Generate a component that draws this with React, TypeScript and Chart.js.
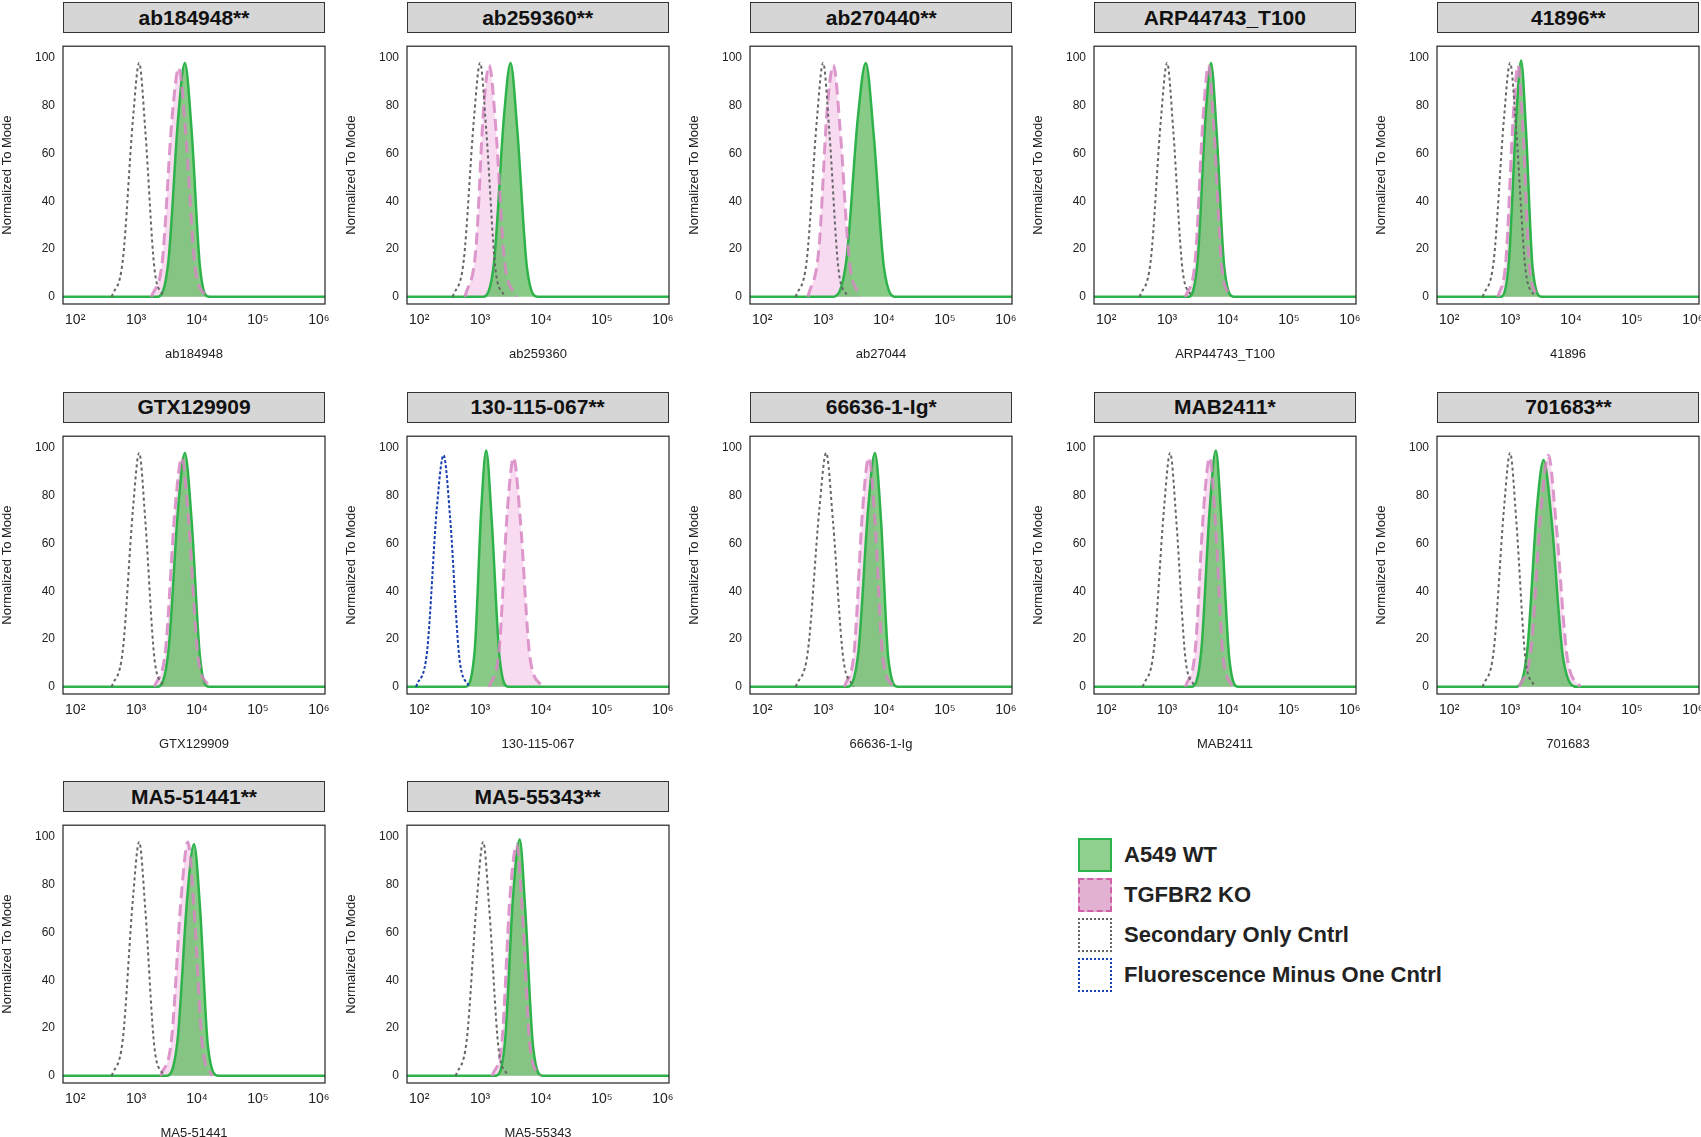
import React, { useEffect, useRef } from "react";
import { Chart, registerables } from "chart.js";
Chart.register(...registerables);

type Pt = [number, number];
const titles = ["ab184948**","ab259360**","ab270440**","ARP44743_T100","41896**","GTX129909","130-115-067**","66636-1-Ig*","MAB2411*","701683**","MA5-51441**","MA5-55343**"];
const xTitles = ["ab184948","ab259360","ab27044","ARP44743_T100","41896","GTX129909","130-115-067","66636-1-Ig","MAB2411","701683","MA5-51441","MA5-55343"];
const tickExps = [2, 3, 4, 5, 6];
const tickLabels = ["10²", "10³", "10⁴", "10⁵", "10⁶"];
const yTicks = [0, 20, 40, 60, 80, 100];

const grayA: Pt[] = [[2.6,0],[2.78,15],[2.95,75],[3.05,98],[3.15,70],[3.3,12],[3.45,0]];
const grayB: Pt[] = [[2.55,0],[2.73,15],[2.9,75],[3.0,98],[3.1,70],[3.25,12],[3.4,0]];
const grayC: Pt[] = [[2.55,0],[2.75,15],[2.94,75],[3.05,98],[3.16,70],[3.33,12],[3.5,0]];

const grayS: (Pt[] | null)[] = [grayA, grayB, grayB, grayB, grayB, grayA, null, grayC, grayA, grayB, grayA, grayA];
const blueS: (Pt[] | null)[] = [null,null,null,null,null,null,
  [[1.95,0],[2.13,15],[2.29,75],[2.4,97],[2.51,70],[2.66,12],[2.82,0]],
  null,null,null,null,null];
const pinkS: Pt[][] = [
  [[3.25,0],[3.43,15],[3.59,75],[3.7,96],[3.81,70],[3.97,12],[4.15,0]],
  [[2.75,0],[2.93,20],[3.06,80],[3.15,97],[3.26,70],[3.4,15],[3.6,0]],
  [[2.75,0],[2.93,20],[3.07,80],[3.17,97],[3.28,70],[3.43,15],[3.6,0]],
  [[3.3,0],[3.46,15],[3.59,75],[3.68,97],[3.77,70],[3.9,12],[4.05,0]],
  [[2.8,0],[2.93,15],[3.05,75],[3.13,97],[3.21,70],[3.32,12],[3.47,0]],
  [[3.3,0],[3.48,15],[3.64,75],[3.75,96],[3.86,70],[4.02,12],[4.2,0]],
  [[3.15,0],[3.31,15],[3.45,75],[3.55,96],[3.66,70],[3.82,12],[4.02,0]],
  [[3.35,0],[3.51,15],[3.65,75],[3.75,96],[3.85,70],[3.98,12],[4.15,0]],
  [[3.3,0],[3.46,15],[3.6,75],[3.7,96],[3.79,70],[3.92,12],[4.08,0]],
  [[3.15,0],[3.34,15],[3.51,75],[3.63,97],[3.75,70],[3.94,12],[4.15,0]],
  [[3.4,0],[3.58,15],[3.74,75],[3.85,98],[3.95,70],[4.09,12],[4.25,0]],
  [[3.2,0],[3.36,15],[3.49,75],[3.6,97],[3.69,70],[3.82,12],[3.98,0]],
];
const greenS: Pt[][] = [
  [[3.35,0],[3.53,15],[3.69,75],[3.8,98],[3.91,70],[4.05,12],[4.2,0]],
  [[3.05,0],[3.23,15],[3.39,75],[3.5,98],[3.61,70],[3.77,12],[3.95,0]],
  [[3.15,0],[3.38,15],[3.57,75],[3.7,98],[3.83,68],[4.0,12],[4.2,0]],
  [[3.35,0],[3.5,15],[3.63,75],[3.72,98],[3.81,70],[3.94,12],[4.1,0]],
  [[2.85,0],[2.98,15],[3.1,75],[3.18,99],[3.26,70],[3.37,12],[3.52,0]],
  [[3.35,0],[3.53,15],[3.69,75],[3.8,98],[3.91,70],[4.05,12],[4.2,0]],
  [[2.75,0],[2.91,15],[3.02,75],[3.1,99],[3.19,70],[3.32,12],[3.47,0]],
  [[3.4,0],[3.58,15],[3.74,75],[3.85,98],[3.95,70],[4.07,12],[4.23,0]],
  [[3.4,0],[3.56,15],[3.7,75],[3.8,99],[3.89,70],[4.02,12],[4.17,0]],
  [[3.1,0],[3.28,15],[3.44,75],[3.55,95],[3.68,70],[3.87,12],[4.1,0]],
  [[3.5,0],[3.68,15],[3.84,75],[3.95,97],[4.05,70],[4.18,12],[4.35,0]],
  [[3.25,0],[3.41,15],[3.54,75],[3.65,99],[3.74,70],[3.87,12],[4.03,0]],
];
const X_MIN_EXP = 1.8, X_MAX_EXP = 6.1;

const toXY = (pts: Pt[]) => pts.map(([l, y]) => ({ x: Math.pow(10, l), y }));

const boxPlugin = {
  id: "box",
  afterDraw(chart: any) {
    const { ctx, chartArea: a } = chart;
    ctx.save(); ctx.strokeStyle = "#222"; ctx.lineWidth = 1.2;
    ctx.strokeRect(a.left, a.top, a.right - a.left, a.bottom - a.top);
    ctx.restore();
  },
};

const FONT = "'Liberation Sans', Arial, sans-serif";

function Panel({ i }: { i: number }) {
  const ref = useRef<HTMLCanvasElement>(null);
  useEffect(() => {
    const ds: any[] = [];
    const base = { showLine: true, pointRadius: 0, cubicInterpolationMode: "monotone" };
    // pink fill (bottom)
    ds.push({ ...base, data: toXY(pinkS[i]), borderWidth: 0, borderColor: "rgba(0,0,0,0)", backgroundColor: "rgba(242,190,228,0.55)", fill: "origin", order: 5 });
    // green fill + line
    ds.push({ ...base, data: toXY([[X_MIN_EXP, 0], ...greenS[i], [X_MAX_EXP, 0]]), borderColor: "#2db34a", borderWidth: 2.5, backgroundColor: "rgba(105,190,105,0.8)", fill: "origin", order: 4 });
    // pink dashed line on top
    ds.push({ ...base, data: toXY(pinkS[i]), borderColor: "rgba(215,135,195,0.85)", borderWidth: 3, borderDash: [12, 6], fill: false, order: 3 });
    if (grayS[i]) ds.push({ ...base, data: toXY(grayS[i]!), borderColor: "#666", borderWidth: 2, borderDash: [3, 3], fill: false, order: 1 });
    if (blueS[i]) ds.push({ ...base, data: toXY(blueS[i]!), borderColor: "#1a3fb0", borderWidth: 2, borderDash: [3, 2], fill: false, order: 1 });
    const chart = new Chart(ref.current!, {
      type: "scatter",
      data: { datasets: ds },
      options: {
        animation: false, responsive: false,
        layout: { padding: { top: 5, right: 15, left: 0, bottom: 0 } },
        plugins: { legend: { display: false }, tooltip: { enabled: false } },
        scales: {
          x: {
            type: "logarithmic", min: Math.pow(10, X_MIN_EXP), max: Math.pow(10, X_MAX_EXP),
            grid: { display: false, drawTicks: true, tickLength: 5 } as any,
            border: { display: false },
            afterBuildTicks: (ax: any) => { ax.ticks = tickExps.map((e) => ({ value: Math.pow(10, e) })); },
            afterFit: (ax: any) => { ax.height = 62; },
            ticks: { autoSkip: false, maxRotation: 0, color: "#222", font: { family: FONT, size: 14 },
              callback: (v: any) => { const k = tickExps.findIndex((e) => Math.abs(Math.pow(10, e) - v) < 1e-6 * v); return k >= 0 ? tickLabels[k] : ""; } },
            title: { display: true, text: xTitles[i], color: "#222", font: { family: FONT, size: 13 }, padding: { top: 6 } },
          },
          y: {
            min: -3, max: 105,
            grid: { display: false, tickLength: 5 } as any,
            border: { display: false },
            afterBuildTicks: (ax: any) => { ax.ticks = yTicks.map((v) => ({ value: v })); },
            afterFit: (ax: any) => { ax.width = 63; },
            ticks: { color: "#222", font: { family: FONT, size: 12 } },
            title: { display: true, text: "Normalized To Mode", color: "#222", font: { family: FONT, size: 13 }, padding: 0 },
          },
        },
      } as any,
      plugins: [boxPlugin],
    });
    return () => chart.destroy();
  }, [i]);
  const col = i % 5, row = Math.floor(i / 5);
  const left = col * 343.6, top = row * 389.5;
  return (
    <div style={{ position: "absolute", left, top, width: 340, height: 370 }}>
      <div style={{ position: "absolute", left: 63, top: 2, width: 260, height: 29, background: "#d6d6d6", border: "1px solid #333",
        font: `bold 21px ${FONT}`, color: "#111", display: "flex", alignItems: "center", justifyContent: "center" }}>{titles[i]}</div>
      <canvas ref={ref} width={340} height={330} style={{ position: "absolute", left: 0, top: 36, width: 340, height: 330 }} />
    </div>
  );
}

const legendItems = [
  { label: "A549 WT", bg: "#8fd08f", border: "2px solid #2db34a" },
  { label: "TGFBR2 KO", bg: "#e2b0d0", border: "2px dashed #d060a8" },
  { label: "Secondary Only Cntrl", bg: "#fff", border: "2px dotted #666" },
  { label: "Fluorescence Minus One Cntrl", bg: "#fff", border: "2px dotted #1a3fb0" },
];

export default function App() {
  return (
    <div style={{ position: "absolute", left: 0, top: 0, width: 1701, height: 1137, background: "#fff", overflow: "hidden" }}>
      {titles.map((_, i) => <Panel key={i} i={i} />)}
      {legendItems.map((it, k) => (
        <div key={k} style={{ position: "absolute", left: 1078, top: 838 + k * 40, display: "flex", alignItems: "center" }}>
          <div style={{ width: 34, height: 34, boxSizing: "border-box", background: it.bg, border: it.border }} />
          <span style={{ marginLeft: 12, font: `bold 22px ${FONT}`, color: "#222" }}>{it.label}</span>
        </div>
      ))}
    </div>
  );
}
